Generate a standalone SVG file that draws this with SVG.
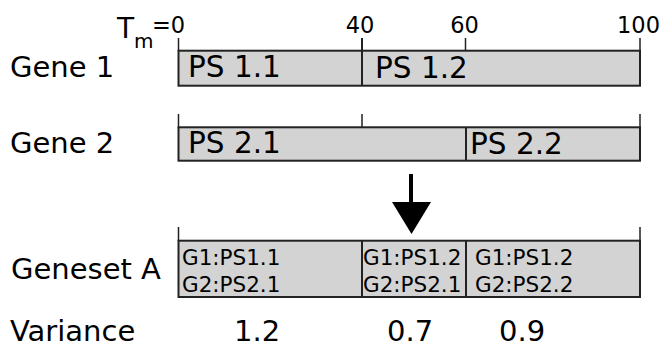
<svg xmlns="http://www.w3.org/2000/svg" width="662" height="349" viewBox="0 0 662 349">
<style>
text{font-family:"DejaVu Sans","Liberation Sans",sans-serif;fill:#000}
.big{font-size:29px}
.ps{font-size:29.5px}
.tick{font-size:22.5px;text-anchor:middle}
.small{font-size:21.5px}
.bar{fill:#d3d3d3;stroke:#222;stroke-width:2}
.div{stroke:#222;stroke-width:2}
.tk{stroke:#222;stroke-width:1.5}
</style>
<rect width="662" height="349" fill="#fff"/>
<g id="axis">
<text x="117" y="38" style="font-size:28px">T</text>
<text x="134" y="48" style="font-size:20px">m</text>
<text x="152" y="33" style="font-size:22.5px">=0</text>
<text class="tick" x="360" y="33">40</text>
<text class="tick" x="464.5" y="33">60</text>
<text class="tick" x="638.5" y="33">100</text>
</g>
<g id="gene1">
<text class="big" x="10" y="77">Gene 1</text>
<line class="tk" x1="178.5" y1="38" x2="178.5" y2="51"/>
<line class="tk" x1="465.5" y1="38" x2="465.5" y2="51"/>
<line class="tk" x1="640" y1="38" x2="640" y2="51"/>
<rect class="bar" x="178.5" y="50.7" width="461.5" height="35"/>
<line class="div" x1="362" y1="38" x2="362" y2="86"/>
<text class="ps" x="188" y="77">PS 1.1</text>
<text class="ps" x="375" y="78">PS 1.2</text>
</g>
<g id="gene2">
<text class="big" x="10" y="153">Gene 2</text>
<line class="tk" x1="178.5" y1="114" x2="178.5" y2="128"/>
<line class="tk" x1="362" y1="114" x2="362" y2="128"/>
<line class="tk" x1="640" y1="114" x2="640" y2="128"/>
<rect class="bar" x="178.5" y="127.3" width="461.5" height="33.4"/>
<line class="div" x1="466" y1="127.3" x2="466" y2="160.7"/>
<text class="ps" x="188" y="153">PS 2.1</text>
<text class="ps" x="470" y="154">PS 2.2</text>
</g>
<g id="connectors">
<line x1="411" y1="174" x2="411" y2="204" stroke="#000" stroke-width="4"/>
<polygon points="392,202 431,202 411.5,234" fill="#000"/>
</g>
<g id="genesetA">
<text class="big" x="11" y="279">Geneset A</text>
<line class="tk" x1="178.5" y1="227" x2="178.5" y2="241"/>
<line class="tk" x1="640" y1="227" x2="640" y2="241"/>
<rect class="bar" x="178.5" y="240.7" width="461.5" height="56.3"/>
<line class="div" x1="362" y1="240.7" x2="362" y2="297"/>
<line class="div" x1="466" y1="240.7" x2="466" y2="297"/>
<text class="small" x="182" y="265">G1:PS1.1</text>
<text class="small" x="182" y="292">G2:PS2.1</text>
<text class="small" x="363" y="265">G1:PS1.2</text>
<text class="small" x="363" y="292">G2:PS2.1</text>
<text class="small" x="475" y="265">G1:PS1.2</text>
<text class="small" x="475" y="292">G2:PS2.2</text>
</g>
<g id="variance">
<text class="big" x="10" y="341">Variance</text>
<text class="big" x="234" y="341">1.2</text>
<text class="big" x="387" y="341">0.7</text>
<text class="big" x="499" y="341">0.9</text>
</g>
</svg>
